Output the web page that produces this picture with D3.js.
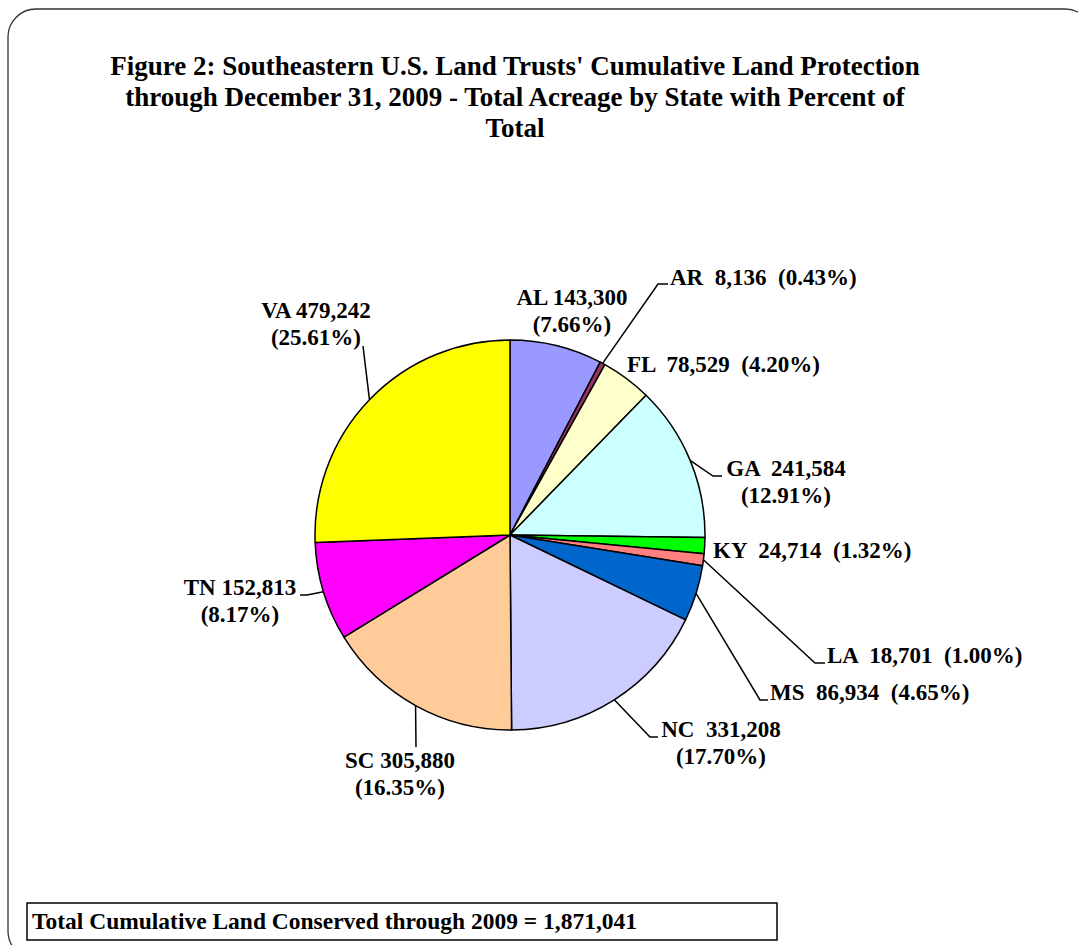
<!DOCTYPE html>
<html lang="en">
<head>
    <meta charset="UTF-8">
    <title>Figure 2</title>
    <script src="https://d3js.org/d3.v7.min.js"></script>
    <style>
        body { margin: 0; background: #fff; }
        text { font-family: "Liberation Serif", "Times New Roman", serif; font-weight: bold; white-space: pre; }
    </style>
</head>
<body>
    <div id="my_dataviz"></div>

    <script>
        // data
        const states = ["AL", "AR", "FL", "GA", "KY", "LA", "MS", "NC", "SC", "TN", "VA"];
        const acres = [143300, 8136, 78529, 241584, 24714, 18701, 86934, 331208, 305880, 152813, 479242];
        const colors = ["#9999ff", "#993366", "#ffffcc", "#ccffff", "#00ff00", "#ff8080",
                        "#0066cc", "#ccccff", "#ffcc99", "#ff00ff", "#ffff00"];
        const titleLines = [
            "Figure 2: Southeastern U.S. Land Trusts' Cumulative Land Protection",
            "through December 31, 2009 - Total Acreage by State with Percent of",
            "Total"
        ];
        const totalLabel = "Total Cumulative Land Conserved through 2009 = ";

        const width = 1078, height = 945;
        const cx = 510, cy = 535, r = 195;

        // label layout: lines, anchor, x, first baseline, leader elbow points
        const labelLayout = {
            AL: { lines: ["{s} {v}", "({p})"], anchor: "middle", x: 572, y: 305 },
            AR: { lines: ["{s}  {v}  ({p})"], anchor: "start", x: 670, y: 285, leader: [[658, 284], [668, 284]] },
            FL: { lines: ["{s}  {v}  ({p})"], anchor: "start", x: 627, y: 372 },
            GA: { lines: ["{s}  {v}", "({p})"], anchor: "middle", x: 786, y: 476, leader: [[713, 476], [722, 476]] },
            KY: { lines: ["{s}  {v}  ({p})"], anchor: "start", x: 713, y: 558 },
            LA: { lines: ["{s}  {v}  ({p})"], anchor: "start", x: 827, y: 663, leader: [[815, 663], [825, 663]] },
            MS: { lines: ["{s}  {v}  ({p})"], anchor: "start", x: 770, y: 700, leader: [[760, 700], [768, 700]] },
            NC: { lines: ["{s}  {v}", "({p})"], anchor: "middle", x: 721, y: 737, leader: [[650, 737], [658, 737]] },
            SC: { lines: ["{s} {v}", "({p})"], anchor: "middle", x: 400, y: 768, leader: [[416, 747]] },
            TN: { lines: ["{s} {v}", "({p})"], anchor: "middle", x: 240, y: 595, leader: [[307, 595], [300, 595]] },
            VA: { lines: ["{s} {v}", "({p})"], anchor: "middle", x: 316, y: 318, leader: [[363, 346]] }
        };

        const svg = d3.select("#my_dataviz")
            .append("svg")
            .attr("width", width)
            .attr("height", height);

        // outer frame
        svg.append("rect")
            .attr("x", 10).attr("y", 11)
            .attr("width", 1085).attr("height", 950)
            .attr("rx", 28)
            .attr("fill", "none")
            .attr("stroke", "#bbb")
            .attr("stroke-width", 3);
        svg.append("rect")
            .attr("x", 8).attr("y", 9)
            .attr("width", 1085).attr("height", 950)
            .attr("rx", 28)
            .attr("fill", "#fff")
            .attr("stroke", "#333")
            .attr("stroke-width", 1.3);

        // title
        svg.append("text")
            .attr("x", 515)
            .attr("text-anchor", "middle")
            .style("font-size", "27px")
            .selectAll("tspan")
            .data(titleLines)
            .join("tspan")
                .attr("x", 515)
                .attr("y", (d, i) => 75 + i * 31)
                .text(d => d);

        const total = d3.sum(acres);
        const data = states.map((s, i) => ({ state: s, value: acres[i], color: colors[i] }));

        const pie = d3.pie().value(d => d.value).sort(null);
        const arcs = pie(data);
        const arc = d3.arc().innerRadius(0).outerRadius(r);
        const edge = d3.arc().innerRadius(r).outerRadius(r);

        const g = svg.append("g").attr("transform", `translate(${cx},${cy})`);

        g.selectAll("path")
            .data(arcs)
            .join("path")
                .attr("d", arc)
                .attr("fill", d => d.data.color)
                .attr("stroke", "#000")
                .attr("stroke-width", 1.5)
                .attr("stroke-linejoin", "round");

        const fmt = d3.format(",");
        const pct = d3.format(".2%");

        // leader lines
        const line = d3.line();
        arcs.forEach(d => {
            const lay = labelLayout[d.data.state];
            if (!lay.leader) return;
            const c = edge.centroid(d);
            const pts = [[cx + c[0], cy + c[1]]].concat(lay.leader);
            svg.append("path")
                .attr("d", line(pts))
                .attr("fill", "none")
                .attr("stroke", "#000")
                .attr("stroke-width", 1.5);
        });

        // labels
        arcs.forEach(d => {
            const lay = labelLayout[d.data.state];
            const t = svg.append("text")
                .attr("text-anchor", lay.anchor)
                .style("font-size", "23px");
            lay.lines.forEach((ln, i) => {
                const s = ln.replace("{s}", d.data.state)
                    .replace("{v}", fmt(d.data.value))
                    .replace("{p}", pct(d.data.value / total));
                t.append("tspan")
                    .attr("x", lay.x)
                    .attr("y", lay.y + i * 27)
                    .text(s);
            });
        });

        // total box
        svg.append("rect")
            .attr("x", 27).attr("y", 903)
            .attr("width", 750).attr("height", 37)
            .attr("fill", "#fff")
            .attr("stroke", "#000")
            .attr("stroke-width", 1.5);
        svg.append("text")
            .attr("x", 32).attr("y", 929)
            .style("font-size", "23px")
            .attr("textLength", 605)
            .attr("lengthAdjust", "spacingAndGlyphs")
            .text(totalLabel + fmt(total));
    </script>
</body>
</html>
